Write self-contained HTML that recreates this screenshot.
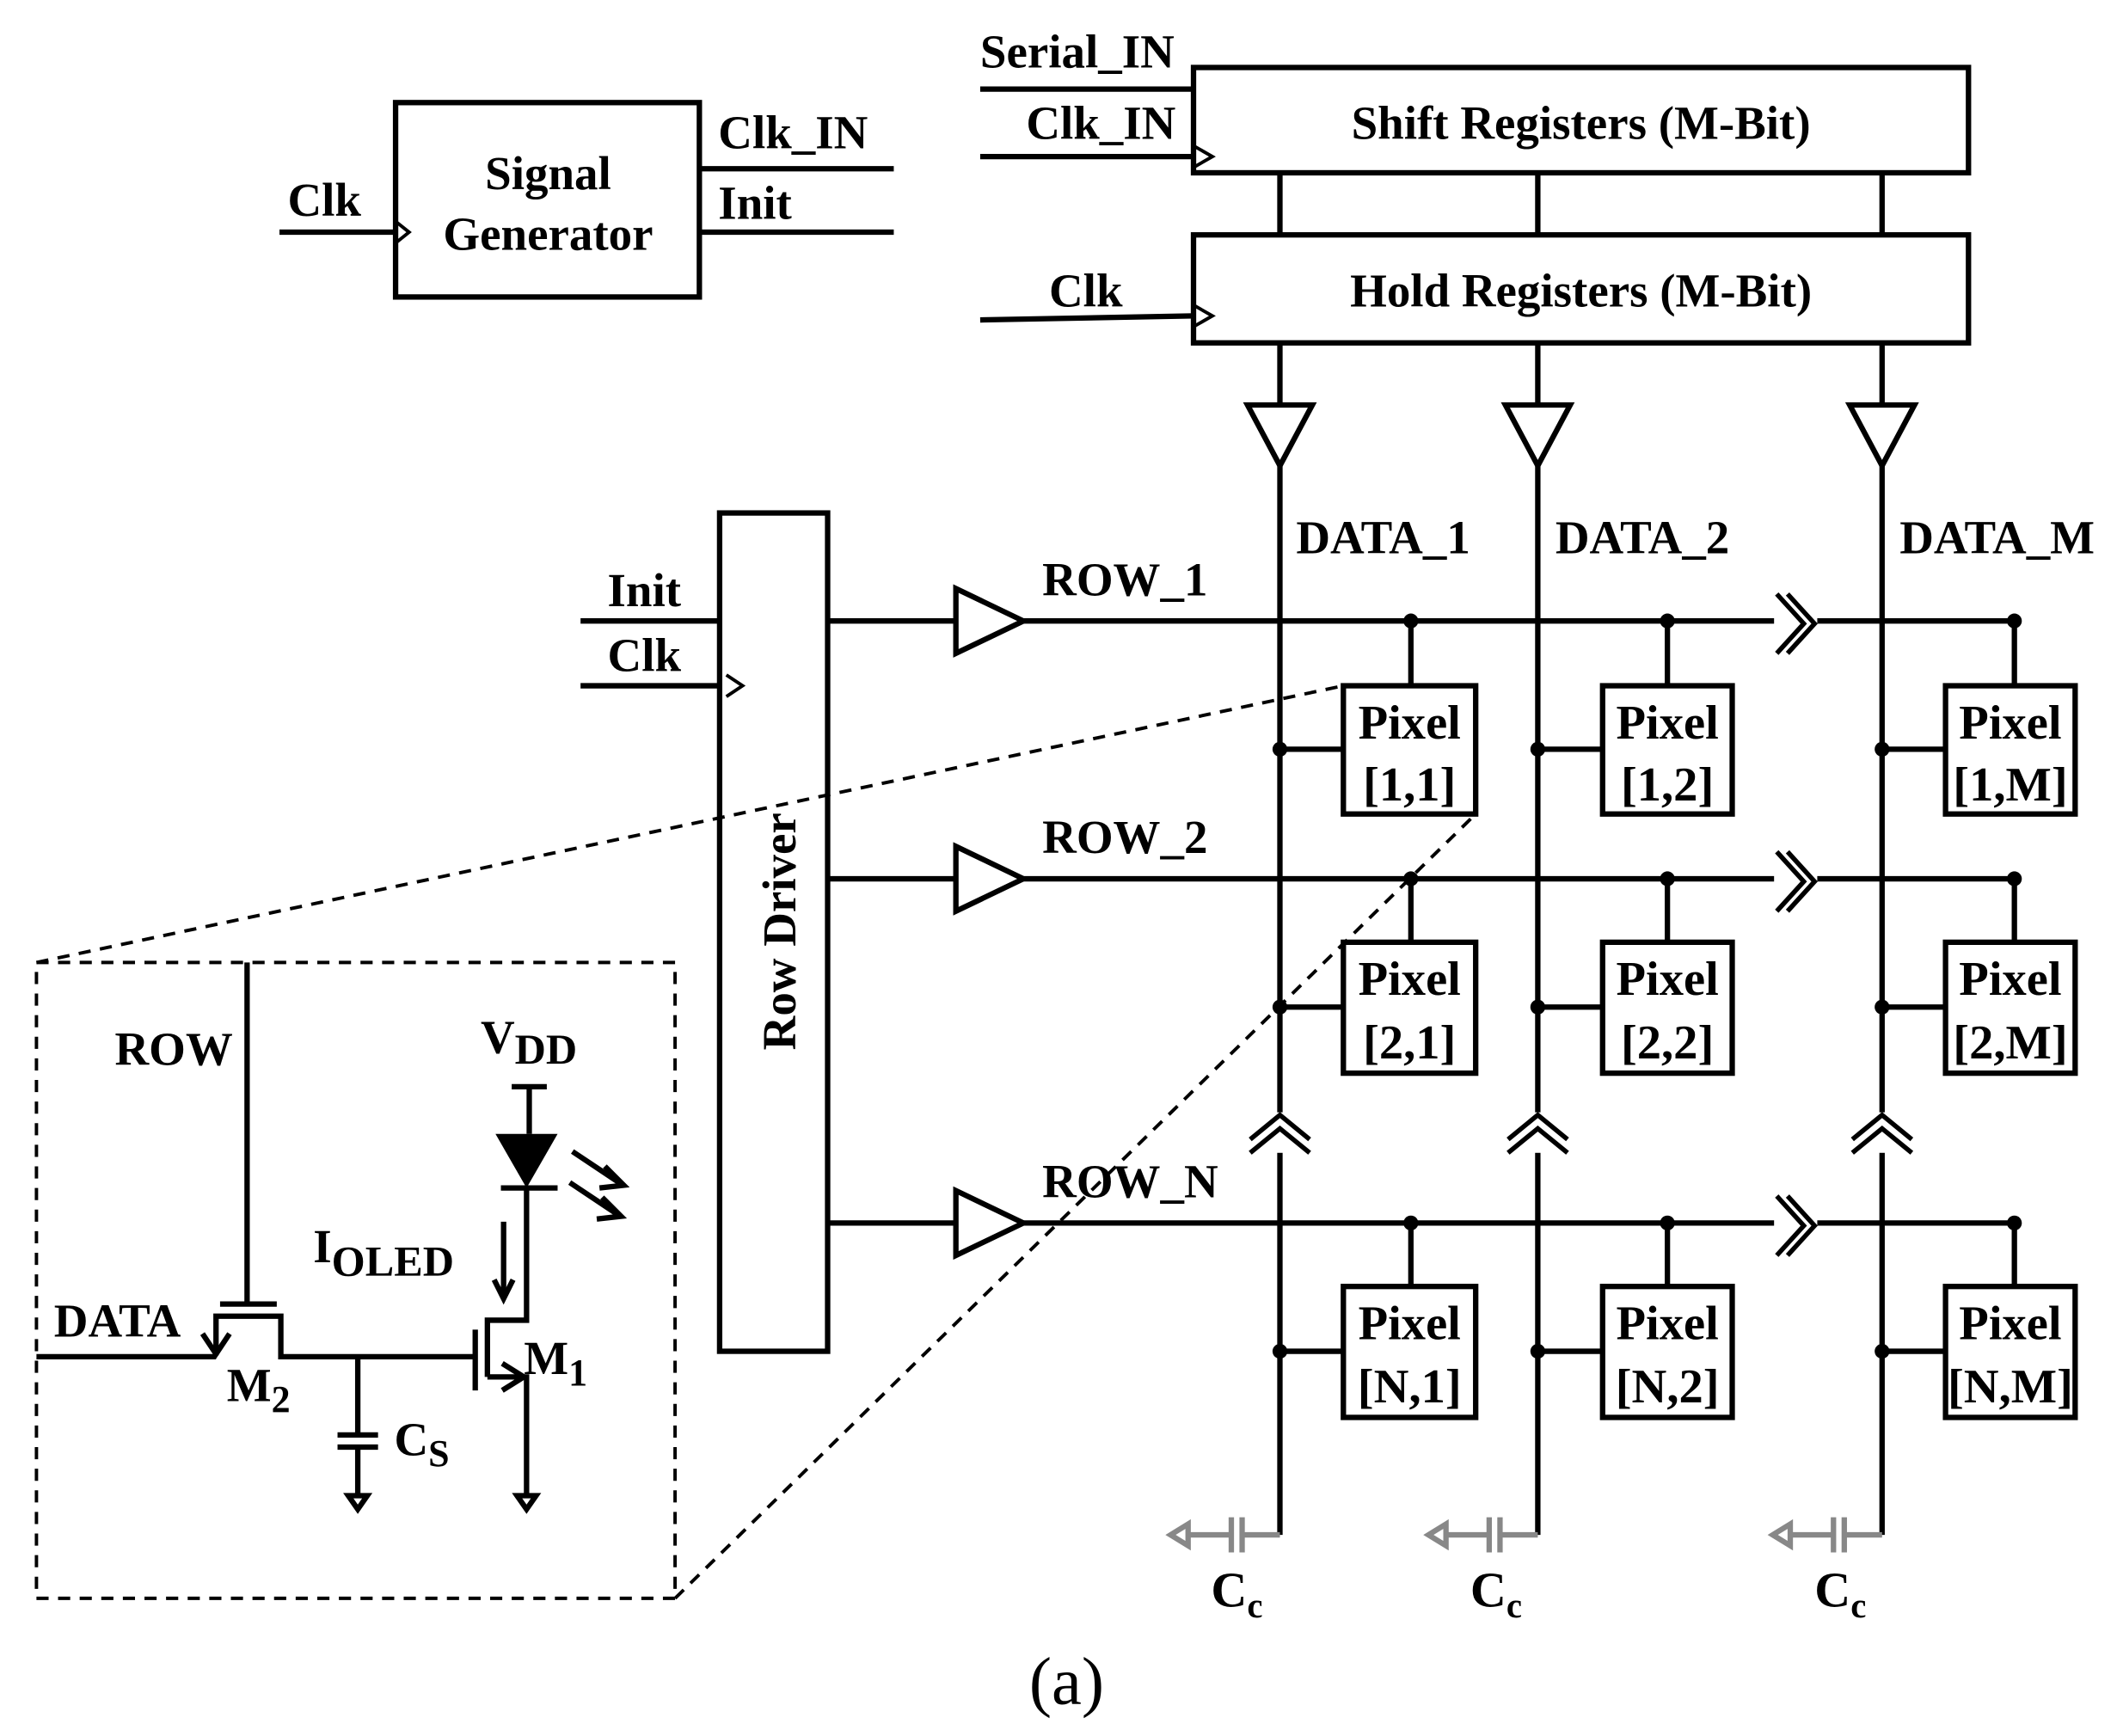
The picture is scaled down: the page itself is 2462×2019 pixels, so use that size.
<!DOCTYPE html>
<html><head><meta charset="utf-8"><style>
html,body{margin:0;padding:0;background:#fff;}
svg{display:block;}
text{font-family:"Liberation Serif",serif;font-weight:bold;fill:#000;}
</style></head><body>
<svg width="2462" height="2019" viewBox="0 0 1568 1286" preserveAspectRatio="none" xmlns="http://www.w3.org/2000/svg">
<defs>
<g id="brkR"><rect x="-16" y="-24" width="32" height="48" fill="#fff"/><path d="M-14,-22 L6,0 L-14,22 M-6,-22 L14,0 L-6,22" fill="none" stroke="#000" stroke-width="3.5"/></g>
<g id="brkU"><rect x="-24" y="-14" width="48" height="30" fill="#fff"/><path d="M-22,6 L0,-12 L22,6 M-22,16 L0,-2 L22,16" fill="none" stroke="#000" stroke-width="3.5"/></g>
</defs>
<g stroke="#000" stroke-width="4" fill="none">
<rect x="293" y="76" width="225" height="144"/>
<line x1="207" y1="172" x2="293" y2="172"/>
<path d="M293,164 L303,172 L293,180" stroke-width="2.5"/>
<line x1="518" y1="125" x2="662" y2="125"/>
<line x1="518" y1="172" x2="662" y2="172"/>
<rect x="884" y="50" width="574" height="78"/>
<rect x="884" y="174" width="574" height="80"/>
<line x1="726" y1="66" x2="884" y2="66"/>
<line x1="726" y1="116" x2="884" y2="116"/>
<path d="M884,108 L898,116 L884,124" stroke-width="2.5"/>
<line x1="726" y1="237" x2="884" y2="234"/>
<path d="M884,226 L898,234 L884,242" stroke-width="2.5"/>
<line x1="948" y1="128" x2="948" y2="174"/>
<line x1="1139" y1="128" x2="1139" y2="174"/>
<line x1="1394" y1="128" x2="1394" y2="174"/>
<line x1="948" y1="254" x2="948" y2="1137"/>
<line x1="1139" y1="254" x2="1139" y2="1137"/>
<line x1="1394" y1="254" x2="1394" y2="1137"/>
<path d="M924,300 L972,300 L948,345 Z" fill="#fff"/>
<path d="M1115,300 L1163,300 L1139,345 Z" fill="#fff"/>
<path d="M1370,300 L1418,300 L1394,345 Z" fill="#fff"/>
<rect x="533" y="380" width="80" height="621"/>
<line x1="430" y1="460" x2="533" y2="460"/>
<line x1="430" y1="508" x2="533" y2="508"/>
<path d="M538,500 L550,508 L538,516" stroke-width="2.5"/>
<line x1="613" y1="460" x2="708" y2="460"/><line x1="758" y1="460" x2="1492" y2="460"/>
<line x1="613" y1="651" x2="708" y2="651"/><line x1="758" y1="651" x2="1492" y2="651"/>
<line x1="613" y1="906" x2="708" y2="906"/><line x1="758" y1="906" x2="1492" y2="906"/>
<path d="M708,436 L758,460 L708,484 Z" fill="#fff"/>
<path d="M708,627 L758,651 L708,675 Z" fill="#fff"/>
<path d="M708,882 L758,906 L708,930 Z" fill="#fff"/>
<rect x="995" y="508" width="98" height="95"/><rect x="1187" y="508" width="96" height="95"/><rect x="1441" y="508" width="96" height="95"/>
<rect x="995" y="698" width="98" height="97"/><rect x="1187" y="698" width="96" height="97"/><rect x="1441" y="698" width="96" height="97"/>
<rect x="995" y="953" width="98" height="97"/><rect x="1187" y="953" width="96" height="97"/><rect x="1441" y="953" width="96" height="97"/>
<path d="M1045,460V508 M1235,460V508 M1492,460V508 M1045,651V698 M1235,651V698 M1492,651V698 M1045,906V953 M1235,906V953 M1492,906V953"/>
<path d="M948,555H995 M1139,555H1187 M1394,555H1441 M948,746H995 M1139,746H1187 M1394,746H1441 M948,1001H995 M1139,1001H1187 M1394,1001H1441"/>
</g>
<g fill="#000">
<circle cx="1045" cy="460" r="5.5"/><circle cx="1235" cy="460" r="5.5"/><circle cx="1492" cy="460" r="5.5"/>
<circle cx="1045" cy="651" r="5.5"/><circle cx="1235" cy="651" r="5.5"/><circle cx="1492" cy="651" r="5.5"/>
<circle cx="1045" cy="906" r="5.5"/><circle cx="1235" cy="906" r="5.5"/><circle cx="1492" cy="906" r="5.5"/>
<circle cx="948" cy="555" r="5.5"/><circle cx="1139" cy="555" r="5.5"/><circle cx="1394" cy="555" r="5.5"/>
<circle cx="948" cy="746" r="5.5"/><circle cx="1139" cy="746" r="5.5"/><circle cx="1394" cy="746" r="5.5"/>
<circle cx="948" cy="1001" r="5.5"/><circle cx="1139" cy="1001" r="5.5"/><circle cx="1394" cy="1001" r="5.5"/>
</g>
<use href="#brkR" x="1330" y="462"/>
<use href="#brkR" x="1330" y="653"/>
<use href="#brkR" x="1330" y="908"/>
<use href="#brkU" x="948" y="838"/>
<use href="#brkU" x="1139" y="838"/>
<use href="#brkU" x="1394" y="838"/>
<g stroke="#888" stroke-width="4" fill="none">
<path d="M948,1137H920 M920,1124V1150 M912,1124V1150 M912,1137H880"/>
<path d="M880,1129 L867,1137 L880,1145 Z"/>
<path d="M1139,1137H1111 M1111,1124V1150 M1103,1124V1150 M1103,1137H1071"/>
<path d="M1071,1129 L1058,1137 L1071,1145 Z"/>
<path d="M1394,1137H1366 M1366,1124V1150 M1358,1124V1150 M1358,1137H1326"/>
<path d="M1326,1129 L1313,1137 L1326,1145 Z"/>
</g>
<g stroke="#000" stroke-width="2.5" fill="none" stroke-dasharray="9,7">
<rect x="27" y="713" width="473" height="471"/>
<line x1="27" y1="713" x2="995" y2="508"/>
<line x1="500" y1="1184" x2="1093" y2="603"/>
</g>
<g stroke="#000" stroke-width="4" fill="none">
<line x1="183" y1="713" x2="183" y2="965"/>
<line x1="163" y1="966" x2="205" y2="966"/>
<path d="M160,1004 V975 H208 V1005 H352"/>
<path d="M150,988 L160,1003 L170,988"/>
<line x1="27" y1="1005" x2="160" y2="1005"/>
<line x1="352" y1="985" x2="352" y2="1030"/>
<path d="M361,1020 V978 H390 V880"/>
<path d="M361,1020 H390 V1108"/>
<path d="M372,1010 L388,1020 L372,1030"/>
<line x1="379" y1="805" x2="405" y2="805"/>
<line x1="392" y1="805" x2="392" y2="840"/>
<line x1="371" y1="880" x2="413" y2="880"/>
<path d="M265,1005 V1063 M250,1063 H280 M250,1072 H280 M265,1072 V1108"/>
<path d="M258,1108 L265,1118 L272,1108 Z"/>
<path d="M383,1108 L390,1118 L397,1108 Z"/>
<line x1="373" y1="905" x2="373" y2="962"/>
<path d="M366,948 L373,962 L380,948"/>
<path d="M424,853 L460,877 M422,876 L458,900"/>
<path d="M448,864 L462,878 L444,880 M446,887 L460,901 L442,903"/>
</g>
<path d="M367,840 L413,840 L390,880 Z" fill="#000"/>
<g font-size="35">
<text x="406" y="140" text-anchor="middle">Signal</text>
<text x="406" y="185" text-anchor="middle">Generator</text>
<text x="213" y="160">Clk</text>
<text x="532" y="110">Clk_IN</text>
<text x="532" y="162">Init</text>
<text x="726" y="50">Serial_IN</text>
<text x="760" y="103">Clk_IN</text>
<text x="777" y="227">Clk</text>
<text x="1171" y="103" text-anchor="middle">Shift Registers (M-Bit)</text>
<text x="1171" y="227" text-anchor="middle">Hold Registers (M-Bit)</text>
<text x="960" y="410">DATA_1</text>
<text x="1152" y="410">DATA_2</text>
<text x="1407" y="410">DATA_M</text>
<text x="450" y="449">Init</text>
<text x="450" y="497">Clk</text>
<text x="772" y="441">ROW_1</text>
<text x="772" y="632">ROW_2</text>
<text x="772" y="887">ROW_N</text>
<text transform="translate(589,690) rotate(-90)" text-anchor="middle">Row Driver</text>
<g text-anchor="middle" font-size="36">
<text x="1044" y="547">Pixel</text><text x="1044" y="593">[1,1]</text>
<text x="1235" y="547">Pixel</text><text x="1235" y="593">[1,2]</text>
<text x="1489" y="547">Pixel</text><text x="1489" y="593">[1,M]</text>
<text x="1044" y="737">Pixel</text><text x="1044" y="784">[2,1]</text>
<text x="1235" y="737">Pixel</text><text x="1235" y="784">[2,2]</text>
<text x="1489" y="737">Pixel</text><text x="1489" y="784">[2,M]</text>
<text x="1044" y="992">Pixel</text><text x="1044" y="1039">[N,1]</text>
<text x="1235" y="992">Pixel</text><text x="1235" y="1039">[N,2]</text>
<text x="1489" y="992">Pixel</text><text x="1489" y="1039">[N,M]</text>
</g>
<text x="897" y="1190" font-size="37">C<tspan font-size="26" dy="8">c</tspan></text>
<text x="1089" y="1190" font-size="37">C<tspan font-size="26" dy="8">c</tspan></text>
<text x="1344" y="1190" font-size="37">C<tspan font-size="26" dy="8">c</tspan></text>
<text x="85" y="789">ROW</text>
<text x="40" y="990">DATA</text>
<text x="168" y="1038">M<tspan font-size="28" dy="8">2</tspan></text>
<text x="292" y="1078">C<tspan font-size="28" dy="8">S</tspan></text>
<text x="388" y="1018">M<tspan font-size="28" dy="8">1</tspan></text>
<text x="232" y="935">I<tspan font-size="32" dy="10">OLED</tspan></text>
<text x="356" y="780">V<tspan font-size="32" dy="8">DD</tspan></text>
</g>
<text x="790" y="1262" font-size="50" text-anchor="middle" style="font-weight:normal">(a)</text>
</svg>
</body></html>
